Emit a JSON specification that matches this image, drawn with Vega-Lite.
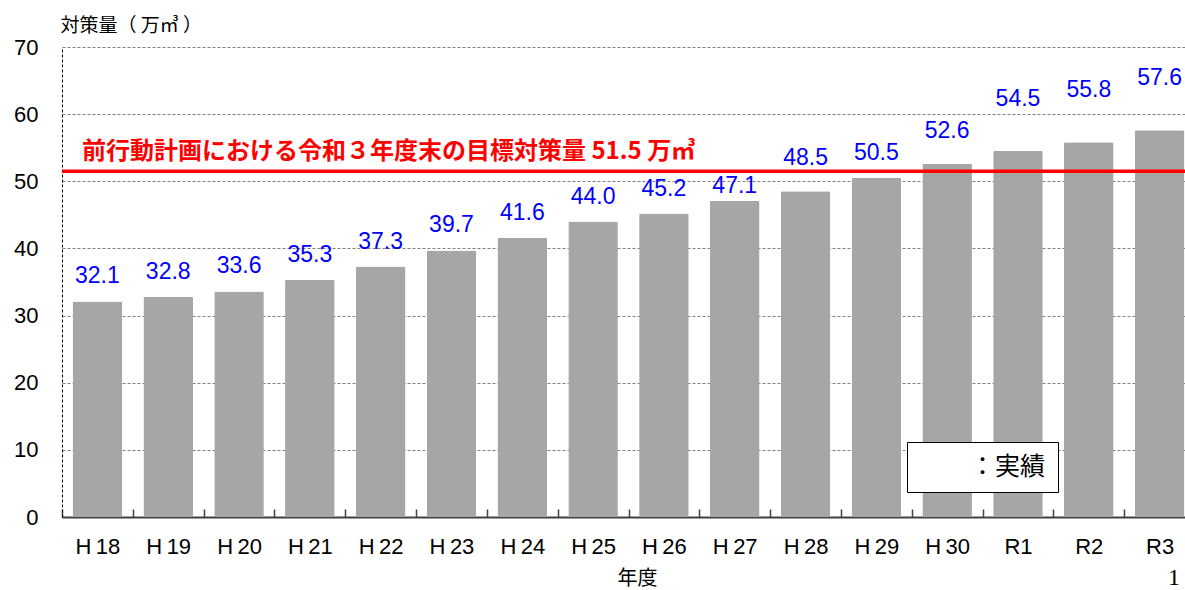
{
  "$schema": "https://vega.github.io/schema/vega-lite/v6.json",
  "autosize": {"type": "none"},
  "padding": {"left": 62, "top": 47, "right": 0, "bottom": 73},
  "width": 1123,
  "height": 470,
  "background": "white",
  "config": {
    "view": {"stroke": null},
    "font": "Liberation Sans, Noto Sans CJK JP"
  },
  "title": {
    "text": "1",
    "orient": "bottom",
    "anchor": "end",
    "frame": "group",
    "font": "Liberation Serif",
    "fontSize": 24,
    "fontWeight": "normal",
    "color": "black",
    "offset": -22,
    "dx": -5
  },
  "data": {
    "values": [
      {"year": "H\u200918", "value": 32.1},
      {"year": "H\u200919", "value": 32.8},
      {"year": "H\u200920", "value": 33.6},
      {"year": "H\u200921", "value": 35.3},
      {"year": "H\u200922", "value": 37.3},
      {"year": "H\u200923", "value": 39.7},
      {"year": "H\u200924", "value": 41.6},
      {"year": "H\u200925", "value": 44.0},
      {"year": "H\u200926", "value": 45.2},
      {"year": "H\u200927", "value": 47.1},
      {"year": "H\u200928", "value": 48.5},
      {"year": "H\u200929", "value": 50.5},
      {"year": "H\u200930", "value": 52.6},
      {"year": "R1", "value": 54.5},
      {"year": "R2", "value": 55.8},
      {"year": "R3", "value": 57.6}
    ]
  },
  "layer": [
    {
      "mark": {"type": "bar", "width": {"band": 0.7}, "cornerRadius": 1.5},
      "encoding": {
        "x": {
          "field": "year",
          "type": "nominal",
          "sort": null,
          "scale": {"paddingInner": 0, "paddingOuter": 0, "range": [0, 1133]},
          "axis": {
            "title": "年度",
            "titleFont": "Noto Sans CJK JP",
            "titleFontSize": 20,
            "titleFontWeight": "normal",
            "titleColor": "black",
            "titleX": 575,
            "titleY": 61,
            "titleBaseline": "middle",
            "labelFontSize": 22,
            "labelColor": "black",
            "labelAngle": 0,
            "labelPadding": 27,
            "tickBand": "extent",
            "tickSize": -8,
            "tickColor": "#404040",
            "tickWidth": 1.5,
            "domainColor": "#404040",
            "domainWidth": 2,
            "grid": false
          }
        },
        "y": {
          "field": "value",
          "type": "quantitative",
          "scale": {"domain": [0, 70]},
          "axis": {
            "values": [0, 10, 20, 30, 40, 50, 60, 70],
            "title": "対策量（ 万㎥ ）",
            "titleFont": "Noto Sans CJK JP",
            "titleFontSize": 19,
            "titleFontWeight": "normal",
            "titleColor": "black",
            "titleAngle": 0,
            "titleAlign": "left",
            "titleBaseline": "middle",
            "titleX": -2,
            "titleY": -22,
            "labelFontSize": 22,
            "labelColor": "black",
            "labelPadding": 24,
            "ticks": false,
            "domainColor": "black",
            "domainDash": [3, 2],
            "grid": true,
            "gridColor": "#808080",
            "gridDash": [3, 2],
            "gridWidth": 1
          }
        },
        "color": {
          "datum": "：実績",
          "scale": {"range": ["#a6a6a6"]},
          "legend": {
            "title": null,
            "orient": "none",
            "legendX": 845,
            "legendY": 395,
            "fillColor": "white",
            "strokeColor": "black",
            "padding": 12,
            "symbolOpacity": 0,
            "symbolStrokeWidth": 0,
            "symbolSize": 100,
            "labelOffset": 26,
            "labelFontSize": 25,
            "labelFont": "Noto Sans CJK JP",
            "labelColor": "black"
          }
        }
      }
    },
    {
      "transform": [{"filter": {"not": {"field": "year", "oneOf": ["H\u200927", "H\u200928", "H\u200930", "R1", "R2", "R3"]}}}],
      "mark": {"type": "text", "dy": -25, "baseline": "middle", "fontSize": 23, "color": "#0000ff", "font": "Liberation Sans"},
      "encoding": {
        "x": {"field": "year", "type": "nominal", "sort": null},
        "y": {"field": "value", "type": "quantitative"},
        "text": {"field": "value", "type": "quantitative", "format": ".1f"}
      }
    },
    {
      "transform": [{"filter": {"field": "year", "oneOf": ["H\u200927"]}}],
      "mark": {"type": "text", "dy": -15, "baseline": "middle", "fontSize": 23, "color": "#0000ff", "font": "Liberation Sans"},
      "encoding": {
        "x": {"field": "year", "type": "nominal", "sort": null},
        "y": {"field": "value", "type": "quantitative"},
        "text": {"field": "value", "type": "quantitative", "format": ".1f"}
      }
    },
    {
      "transform": [{"filter": {"field": "year", "oneOf": ["H\u200928", "H\u200930"]}}],
      "mark": {"type": "text", "dy": -33, "baseline": "middle", "fontSize": 23, "color": "#0000ff", "font": "Liberation Sans"},
      "encoding": {
        "x": {"field": "year", "type": "nominal", "sort": null},
        "y": {"field": "value", "type": "quantitative"},
        "text": {"field": "value", "type": "quantitative", "format": ".1f"}
      }
    },
    {
      "transform": [{"filter": {"field": "year", "oneOf": ["R1", "R2", "R3"]}}],
      "mark": {"type": "text", "dy": -52, "baseline": "middle", "fontSize": 23, "color": "#0000ff", "font": "Liberation Sans"},
      "encoding": {
        "x": {"field": "year", "type": "nominal", "sort": null},
        "y": {"field": "value", "type": "quantitative"},
        "text": {"field": "value", "type": "quantitative", "format": ".1f"}
      }
    },
    {
      "data": {"values": [{"target": 51.5, "label": "前行動計画における令和３年度末の目標対策量 51.5 万㎥"}]},
      "layer": [
        {
          "mark": {"type": "rule", "color": "#ff0000", "strokeWidth": 3.5},
          "encoding": {"y": {"field": "target", "type": "quantitative"}}
        },
        {
          "mark": {"type": "text", "align": "left", "baseline": "middle", "dx": 20, "dy": -19, "fontSize": 24, "fontWeight": "bold", "font": "Noto Sans CJK JP", "color": "#ff0000"},
          "encoding": {
            "x": {"datum": "H\u200918", "type": "nominal", "bandPosition": 0},
            "y": {"field": "target", "type": "quantitative"},
            "text": {"field": "label"}
          }
        }
      ]
    }
  ]
}
